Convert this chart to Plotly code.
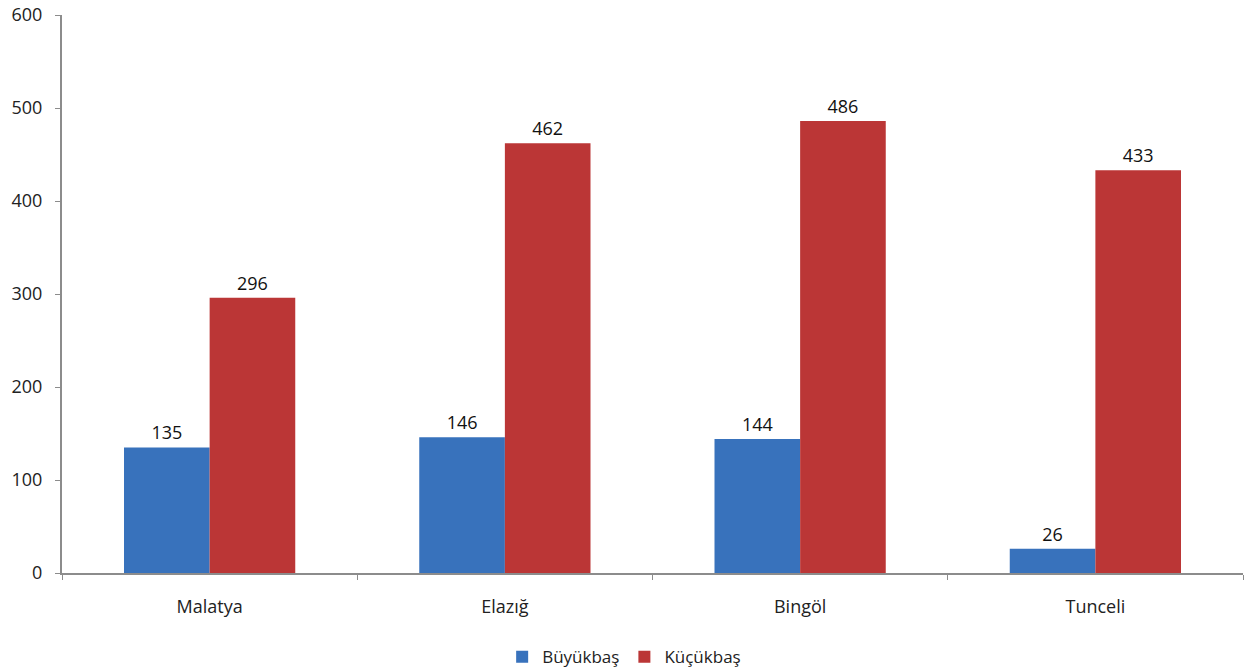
import plotly.graph_objects as go

# Data
provinces = ["Malatya", "Elazığ", "Bingöl", "Tunceli"]
buyukbas = [135, 146, 144, 26]
kucukbas = [296, 462, 486, 433]

FONT = "Open Sans, Liberation Sans, sans-serif"
AXIS_GREY = "#8c8c8c"

fig = go.Figure()
fig.add_trace(go.Bar(
    x=provinces,
    y=buyukbas,
    name="Büyükbaş",
    marker=dict(color="#3872bc", line=dict(width=0)),
    text=buyukbas,
    textposition="outside",
    cliponaxis=False,
))
fig.add_trace(go.Bar(
    x=provinces,
    y=kucukbas,
    name="Küçükbaş",
    marker=dict(color="#bb3636", line=dict(width=0)),
    text=kucukbas,
    textposition="outside",
    cliponaxis=False,
))

fig.update_layout(
    width=1252,
    height=672,
    margin=dict(l=62, r=9, t=15, b=99, autoexpand=False),
    paper_bgcolor="white",
    plot_bgcolor="white",
    font=dict(family=FONT, size=18, color="#222222"),
    barmode="group",
    bargap=0.42,
    bargroupgap=0,
    legend=dict(
        orientation="h",
        x=0.476,
        xanchor="center",
        y=-0.151,
        yanchor="middle",
        font=dict(size=17),
        itemwidth=30,
        tracegroupgap=0,
    ),
    showlegend=True,
)
fig.update_traces(textfont=dict(size=18, color="#111111"))

fig.update_xaxes(
    showline=True,
    linecolor=AXIS_GREY,
    linewidth=2,
    ticks="outside",
    tickson="boundaries",
    ticklen=5,
    tickcolor=AXIS_GREY,
    tickwidth=1,
    showgrid=False,
    automargin=False,
    ticklabelstandoff=16,
)
fig.update_yaxes(
    range=[0, 600],
    dtick=100,
    showline=True,
    linecolor=AXIS_GREY,
    linewidth=2,
    ticks="outside",
    ticklen=5,
    tickcolor=AXIS_GREY,
    tickwidth=1,
    showgrid=False,
    zeroline=False,
    automargin=False,
    ticklabelstandoff=9,
)

# drop the default body margin so the figure sits at the page corner
fig.write_html(
    "out.html",
    config={"displayModeBar": False},
    post_script="document.body.style.margin='0';",
)
